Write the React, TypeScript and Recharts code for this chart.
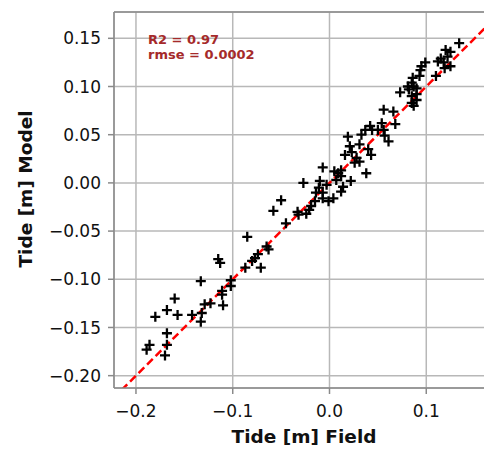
import {
  CartesianGrid,
  ReferenceLine,
  Scatter,
  ScatterChart,
  XAxis,
  YAxis
} from "recharts";

// observed (field) vs modelled tide, metres
const fieldValues = [
  -0.189, -0.186, -0.170, -0.168, -0.168, -0.180, -0.168, -0.160, -0.157, -0.142,
  -0.133, -0.132, -0.129, -0.123, -0.110, -0.133, -0.111, -0.111, -0.102, -0.102,
  -0.115, -0.113, -0.087, -0.071, -0.080, -0.077, -0.074, -0.065, -0.063, -0.085,
  -0.058, -0.050, -0.045, -0.033, -0.032, -0.024, -0.021, -0.019, -0.015, -0.014,
  -0.011, -0.007, -0.007, -0.001, 0.004, -0.010, -0.003, -0.027, -0.007, 0.005,
  0.009, 0.012, 0.012, 0.007, 0.014, 0.012, 0.022, 0.038, 0.016, 0.023,
  0.028, 0.031, 0.026, 0.021, 0.031, 0.040, 0.043, 0.019, 0.033, 0.037,
  0.042, 0.044, 0.050, 0.056, 0.054, 0.057, 0.061, 0.068, 0.056, 0.066,
  0.073, 0.081, 0.082, 0.087, 0.090, 0.090, 0.085, 0.090, 0.085, 0.087,
  0.085, 0.086, 0.093, 0.094, 0.095, 0.099, 0.110, 0.112, 0.115, 0.118,
  0.119, 0.125, 0.120, 0.122, 0.125, 0.134
];

const modelValues = [
  -0.173, -0.168, -0.179, -0.168, -0.156, -0.139, -0.132, -0.120, -0.137, -0.137,
  -0.144, -0.135, -0.126, -0.125, -0.127, -0.102, -0.112, -0.116, -0.101, -0.107,
  -0.079, -0.083, -0.088, -0.088, -0.081, -0.078, -0.074, -0.066, -0.069, -0.056,
  -0.029, -0.018, -0.042, -0.030, -0.033, -0.032, -0.028, -0.024, -0.019, -0.010,
  -0.005, -0.010, -0.016, -0.019, -0.016, 0.002, -0.002, 0.000, 0.016, 0.012,
  0.010, 0.013, 0.007, 0.003, -0.004, -0.009, 0.002, 0.010, 0.029, 0.032,
  0.026, 0.022, 0.021, 0.038, 0.040, 0.035, 0.029, 0.048, 0.050, 0.055,
  0.059, 0.055, 0.055, 0.055, 0.062, 0.049, 0.043, 0.061, 0.076, 0.074,
  0.094, 0.100, 0.097, 0.100, 0.098, 0.092, 0.090, 0.086, 0.083, 0.080,
  0.104, 0.109, 0.111, 0.117, 0.121, 0.125, 0.111, 0.126, 0.129, 0.125,
  0.119, 0.121, 0.138, 0.131, 0.136, 0.145
];

const xTicks = [-0.2, -0.1, 0, 0.1];
const yTicks = [-0.2, -0.15, -0.1, -0.05, 0, 0.05, 0.1, 0.15];
const xDomain = [-0.2227, 0.17];
const yDomain = [-0.2128, 0.1773];
const oneToOne = [-0.25, 0.2];
const statsLines = ["R2 = 0.97", "rmse = 0.0002"];

const points = fieldValues.map((field, i) => ({ field, model: modelValues[i] }));

const minus = (s: string) => s.replace("-", "\u2212");
const tickFont = { fontSize: 17, fill: "#111", fontFamily: "DejaVu Sans" };
const labelFont = "'DejaVu Sans', sans-serif";
const spine = { stroke: "#8a8a8a", strokeWidth: 1.5 };

function PlusMark(props: any) {
  const { cx, cy } = props;
  if (cx == null || cy == null) return null;
  const r = 5;
  return (
    <path
      d={`M${cx - r},${cy}H${cx + r}M${cx},${cy - r}V${cy + r}`}
      stroke="#000"
      strokeWidth={2.3}
      fill="none"
    />
  );
}

export default function App() {
  return (
    <div
      style={{
        position: "absolute",
        left: 0,
        top: 0,
        width: 484,
        height: 450,
        overflow: "hidden",
        background: "#fff"
      }}
    >
      <ScatterChart width={500} height={450} margin={{ top: 12, right: 6, bottom: 0, left: 0 }}>
        <CartesianGrid stroke="#b8b8b8" strokeWidth={1.5} />
        <XAxis
          type="number"
          dataKey="field"
          domain={xDomain}
          ticks={xTicks}
          allowDataOverflow
          height={62}
          tickFormatter={(v: number) => minus(v.toFixed(1))}
          tick={tickFont}
          tickSize={6}
          tickMargin={11}
          axisLine={spine}
          tickLine={spine}
          label={{
            content: (p: any) => {
              const vb = p.viewBox;
              return (
                <text
                  x={vb.x + vb.width / 2}
                  y={vb.y + vb.height - 7}
                  textAnchor="middle"
                  fontFamily={labelFont}
                  fontWeight="bold"
                  fontSize={18.5}
                  fill="#111"
                >
                  Tide [m] Field
                </text>
              );
            }
          }}
        />
        <YAxis
          type="number"
          dataKey="model"
          domain={yDomain}
          ticks={yTicks}
          allowDataOverflow
          width={114}
          tickFormatter={(v: number) => minus(v.toFixed(2))}
          tick={tickFont}
          tickSize={6}
          tickMargin={7}
          axisLine={spine}
          tickLine={spine}
          label={{
            content: () => (
              <text
                x={32}
                y={189}
                transform="rotate(-90, 32, 189)"
                textAnchor="middle"
                fontFamily={labelFont}
                fontWeight="bold"
                fontSize={18.5}
                fill="#111"
              >
                Tide [m] Model
              </text>
            )
          }}
        />
        <ReferenceLine
          y={yDomain[1]}
          ifOverflow="visible"
          stroke={spine.stroke}
          strokeWidth={spine.strokeWidth}
          label={{
            content: (p: any) => {
              const vb = p.viewBox;
              return (
                <text
                  x={vb.x + 34}
                  fontFamily={labelFont}
                  fontWeight="bold"
                  fontSize={13}
                  fill="#a52a2a"
                >
                  {statsLines.map((line, i) => (
                    <tspan key={line} x={vb.x + 34} y={vb.y + 31.7 + i * 15.6}>
                      {line}
                    </tspan>
                  ))}
                </text>
              );
            }
          }}
        />
        <Scatter data={points} shape={PlusMark} isAnimationActive={false} />
        <ReferenceLine
          segment={[
            { x: oneToOne[0], y: oneToOne[0] },
            { x: oneToOne[1], y: oneToOne[1] }
          ]}
          ifOverflow="hidden"
          stroke="#ff0000"
          strokeWidth={2.5}
          strokeDasharray="8 4"
        />
      </ScatterChart>
    </div>
  );
}
